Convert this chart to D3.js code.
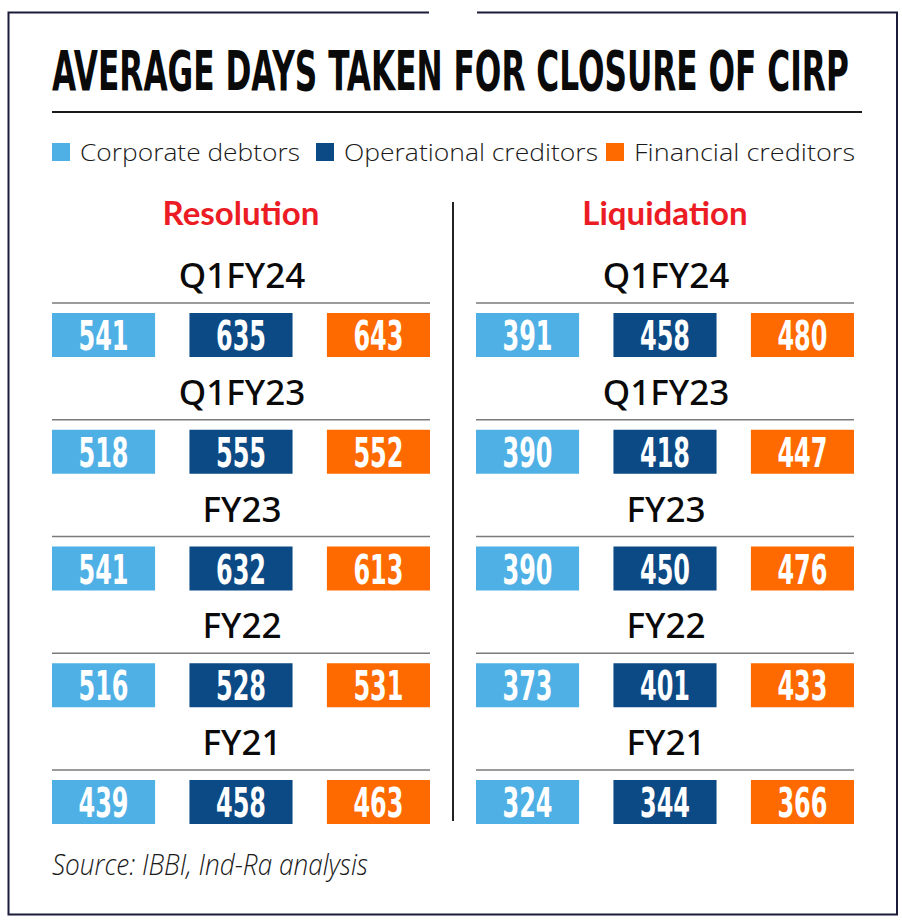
<!DOCTYPE html>
<html>
<head>
<meta charset="utf-8">
<script src="https://cdn.jsdelivr.net/npm/d3@7"></script>
<style>
  html, body { margin: 0; padding: 0; background: #ffffff; }
  svg { display: block; }
</style>
</head>
<body>
<div id="chart"></div>
<script>
// ---------- DATA ----------
const titleText = "AVERAGE DAYS TAKEN FOR CLOSURE OF CIRP";
const seriesNames = ["Corporate debtors", "Operational creditors", "Financial creditors"];
const seriesColors = ["#4fb0e5", "#0c4a85", "#ff6a00"];
const periods = ["Q1FY24", "Q1FY23", "FY23", "FY22", "FY21"];
const panels = ["Resolution", "Liquidation"];

const resolutionCorporate   = [541, 518, 541, 516, 439];
const resolutionOperational = [635, 555, 632, 528, 458];
const resolutionFinancial   = [643, 552, 613, 531, 463];

const liquidationCorporate   = [391, 390, 390, 373, 324];
const liquidationOperational = [458, 418, 450, 401, 344];
const liquidationFinancial   = [480, 447, 476, 433, 366];

const sourceText = "Source: IBBI, Ind-Ra analysis";

const panelData = {
  Resolution: [resolutionCorporate, resolutionOperational, resolutionFinancial],
  Liquidation: [liquidationCorporate, liquidationOperational, liquidationFinancial]
};

// ---------- LAYOUT ----------
const W = 902, H = 924;
const svg = d3.select("#chart").append("svg").attr("width", W).attr("height", H);

// frame
const frameColor = "#1b1b3a";
const frame = svg.append("g").attr("stroke", frameColor).attr("stroke-width", 2).attr("fill", "none");
frame.append("path").attr("d", "M429,12.5 H8.5 V914.5 H897 V12.5 H477");

// title: fit natural width to target, then stretch vertically to the condensed look
const titleW = 797, titleCap = 40;
const titleEl = svg.append("text")
  .attr("x", 0).attr("y", 0)
  .style("font-family", "'DejaVu Sans Condensed', 'DejaVu Sans', sans-serif")
  .style("font-weight", "bold").style("font-size", "40px").attr("fill", "#0a0a0a")
  .text(titleText);
const natW = titleEl.node().getComputedTextLength();
const fs = 40 * titleW / natW;
const sy = titleCap / (0.73 * fs);
titleEl.style("font-size", fs + "px")
  .attr("transform", `translate(52,90) scale(1,${sy})`);

svg.append("line").attr("x1", 52).attr("x2", 862).attr("y1", 112).attr("y2", 112)
  .attr("stroke", "#1a1a1a").attr("stroke-width", 2);

// legend
const legendX = [52, 316, 606];
const legendTextW = [220, 254, 221];
const legend = svg.append("g");
seriesNames.forEach((s, i) => {
  legend.append("rect").attr("x", legendX[i]).attr("y", 143).attr("width", 18).attr("height", 18)
    .attr("fill", seriesColors[i]);
  legend.append("text").attr("x", legendX[i] + 28).attr("y", 161)
    .attr("textLength", legendTextW[i]).attr("lengthAdjust", "spacingAndGlyphs")
    .style("font-family", "'Open Sans', 'Noto Sans', sans-serif")
    .style("font-weight", 300).style("font-size", "24px").attr("fill", "#1a1a1a")
    .text(s);
});

// divider
svg.append("line").attr("x1", 453).attr("x2", 453).attr("y1", 202).attr("y2", 821)
  .attr("stroke", "#222").attr("stroke-width", 2);

// row scale
const rowStep = 116.75;
const y = d3.scaleBand().domain(periods).range([313, 313 + rowStep * periods.length]).paddingInner(0).paddingOuter(0);

const panelRanges = { Resolution: [52, 430], Liquidation: [476, 854] };

panels.forEach(p => {
  const range = panelRanges[p];
  const cx = (range[0] + range[1]) / 2;
  const x = d3.scaleBand().domain(seriesNames).range(range).paddingInner(0.25).paddingOuter(0);
  const g = svg.append("g");

  g.append("text").attr("x", cx).attr("y", 225).attr("text-anchor", "middle")
    .style("font-family", "Lato, 'Noto Sans', sans-serif")
    .style("font-weight", "bold").style("font-size", "33px").attr("fill", "#ec1c24")
    .text(p);

  periods.forEach((per, r) => {
    const top = y(per);
    g.append("text").attr("x", cx + 1).attr("y", top - 25).attr("text-anchor", "middle")
      .style("font-family", "'Noto Sans', sans-serif")
      .style("font-weight", 500).style("font-size", "35px").attr("fill", "#0a0a0a")
      .text(per);
    g.append("line").attr("x1", range[0]).attr("x2", range[1])
      .attr("y1", top - 10).attr("y2", top - 10)
      .attr("stroke", "#7a7a7a").attr("stroke-width", 1.5);

    seriesNames.forEach((s, i) => {
      const v = panelData[p][i][r];
      g.append("rect").attr("x", x(s)).attr("y", top).attr("width", x.bandwidth()).attr("height", 44)
        .attr("fill", seriesColors[i]);
      g.append("text").attr("x", x(s) + x.bandwidth() / 2).attr("y", top + 37)
        .attr("text-anchor", "middle")
        .attr("textLength", 50).attr("lengthAdjust", "spacingAndGlyphs")
        .style("font-family", "'DejaVu Sans Condensed', 'DejaVu Sans', sans-serif")
        .style("font-weight", "bold").style("font-size", "40px").attr("fill", "#ffffff")
        .text(v);
    });
  });
});

// source
svg.append("text").attr("x", 52).attr("y", 875)
  .attr("textLength", 316).attr("lengthAdjust", "spacingAndGlyphs")
  .style("font-family", "'Open Sans', 'Noto Sans', sans-serif")
  .style("font-style", "italic").style("font-weight", 300).style("font-size", "29px")
  .attr("fill", "#1a1a1a")
  .text(sourceText);
</script>
</body>
</html>
